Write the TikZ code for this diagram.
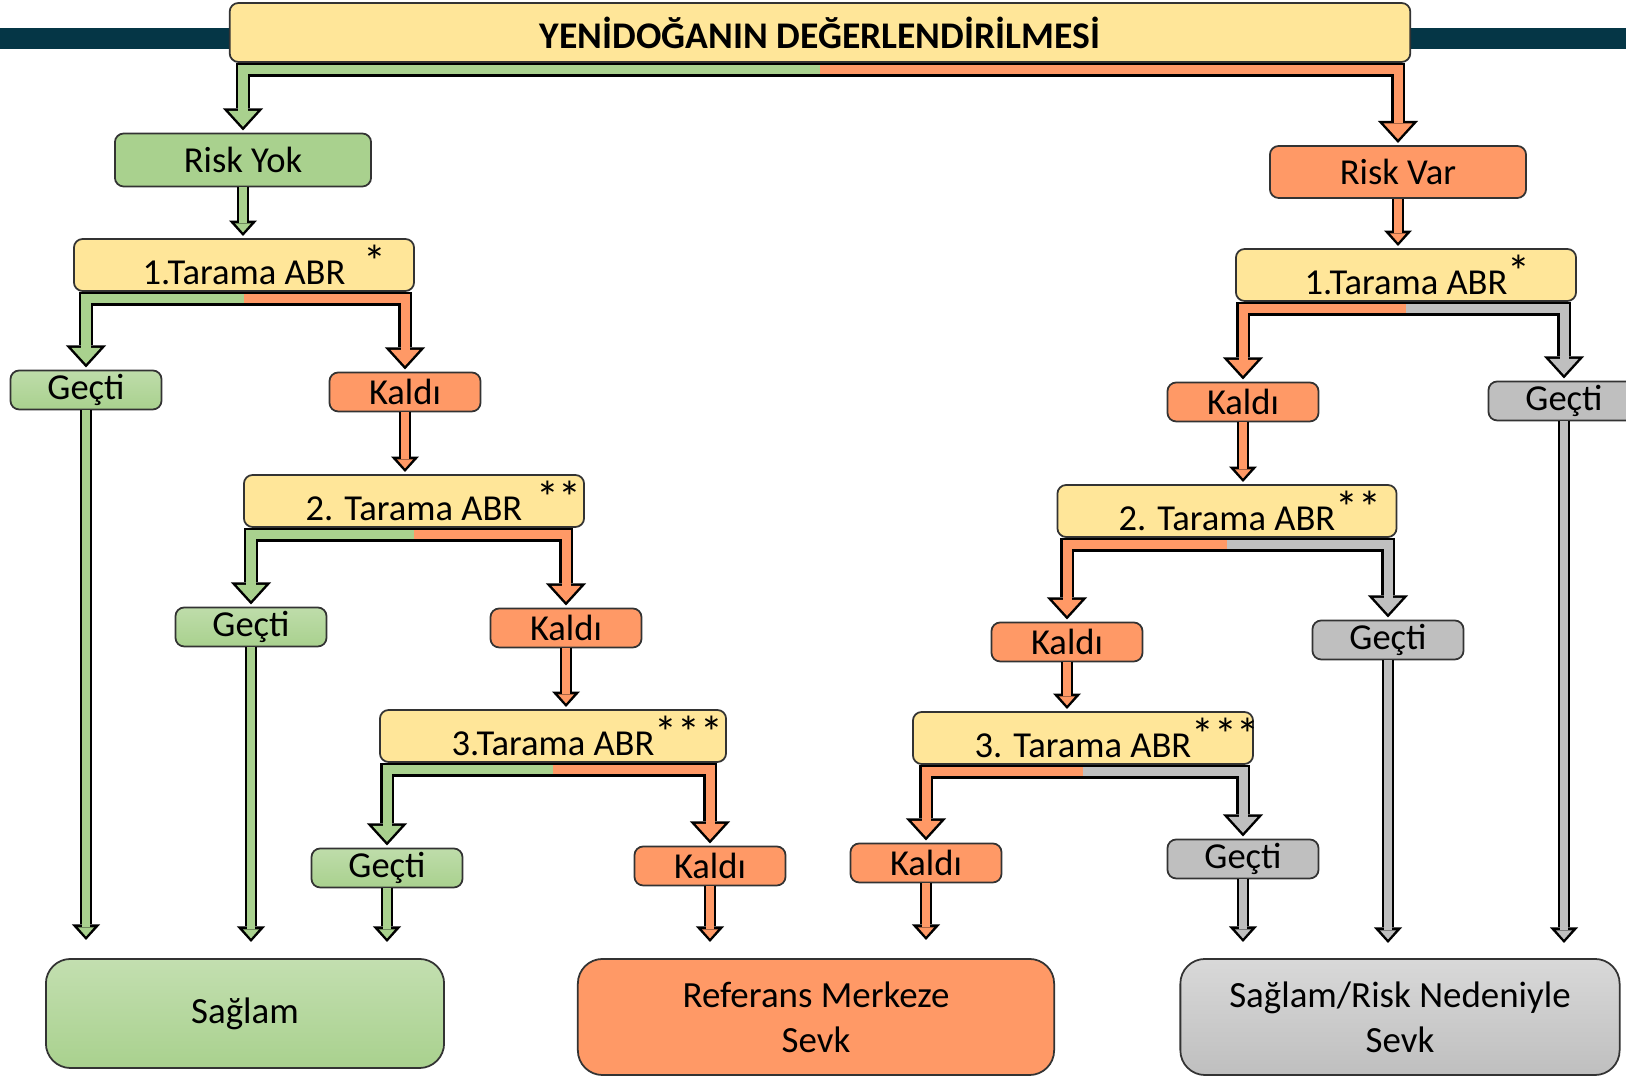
\documentclass[tikz,border=0pt]{standalone}
\usepackage{fontspec}
\setmainfont{Carlito}
\usetikzlibrary{arrows.meta,calc}

\definecolor{sari}{HTML}{FFE699}
\definecolor{yesil}{HTML}{A9D18E}
\definecolor{turuncu}{HTML}{FF9966}
\definecolor{gri}{HTML}{BFBFBF}
\definecolor{lacivert}{HTML}{053646}

\newcommand\yildiz[1]{\rlap{\fontsize{13}{13}\selectfont\raisebox{0.15em}{#1}}}

\tikzset{
  kutu/.style={draw=black!80, line width=0.5pt, rounded corners=2.5pt, inner sep=0pt,
    minimum width=1.51cm, minimum height=0.39cm, font=\fontsize{10.4}{12}\selectfont},
  tarama/.style={kutu, fill=sari, minimum width=3.4cm, minimum height=0.52cm},
  gecti/.style={kutu, top color=yesil!75!white, bottom color=yesil},
  kaldi/.style={kutu, fill=turuncu},
  gecgri/.style={kutu, fill=gri},
  sonuc/.style={kutu, rounded corners=7pt, align=center, font=\fontsize{10.5}{12.8}\selectfont},
  % block arrows: black outline first, colour on top
  dis/.style={line width=3.98pt, black, shorten >=0.6pt,
    -{Triangle[width=11.4pt,length=6.26pt,line width=0pt]}},
  ic/.style={line width=2.56pt, shorten >=1.65pt,
    -{Triangle[width=8.2pt,length=4.5pt,line width=0pt]}},
  dis2/.style={line width=3.41pt, black, shorten >=0.6pt,
    -{Triangle[width=7.97pt,length=4.4pt,line width=0pt]}},
  ic2/.style={line width=2pt, shorten >=1.6pt,
    -{Triangle[width=4.55pt,length=2.6pt,line width=0pt]}},
}
\newcommand\okb[2]{\draw[dis] #2; \draw[ic,#1] #2;}
\newcommand\oks[2]{\draw[dis2] #2; \draw[ic2,#1] #2;}

\begin{document}
\begin{tikzpicture}[x=0.01cm, y=-0.01cm]
\useasboundingbox (0,0) rectangle (1626,1077);
\fill[lacivert] (0,28) rectangle (1626,49);

\node[kutu, fill=sari, minimum width=11.8cm, minimum height=0.59cm,
  font=\bfseries\fontsize{10.7}{12}\selectfont] (baslik) at (820,32.5) {YENİDOĞANIN DEĞERLENDİRİLMESİ};

% risk yok
\node[kutu, fill=yesil, minimum width=2.56cm, minimum height=0.53cm] (ry) at (243,160) {Risk Yok};
\node[tarama] (t1) at (244,265) {1.Tarama ABR\yildiz{\hspace{0.4em}*}};
\node[gecti] (g1) at (86,390) {Geçti};
\node[kaldi] (k1) at (405,392) {Kaldı};
\node[tarama] (t2) at (414,501) {2. Tarama ABR\yildiz{\hspace{0.3em}**}};
\node[gecti] (g2) at (251,627) {Geçti};
\node[kaldi] (k2) at (566,628) {Kaldı};
\node[tarama, minimum width=3.46cm] (t3) at (553,736) {3.Tarama ABR\yildiz{***}};
\node[gecti] (g3) at (387,868) {Geçti};
\node[kaldi] (k3) at (710,866) {Kaldı};

% risk var
\node[kutu, fill=turuncu, minimum width=2.56cm, minimum height=0.52cm] (rv) at (1398,172) {Risk Var};
\node[tarama] (rt1) at (1406,275) {1.Tarama ABR\yildiz{*}};
\node[kaldi] (rk1) at (1243,402) {Kaldı};
\node[gecgri] (rg1) at (1564,401) {Geçti};
\node[tarama, minimum width=3.39cm] (rt2) at (1227,511) {2. Tarama ABR\yildiz{**}};
\node[kaldi] (rk2) at (1067,642) {Kaldı};
\node[gecgri] (rg2) at (1388,640) {Geçti};
\node[tarama] (rt3) at (1083,738) {3. Tarama ABR\yildiz{***}};
\node[kaldi] (rk3) at (926,863) {Kaldı};
\node[gecgri] (rg3) at (1243,859) {Geçti};

% sonuclar
\node[sonuc, top color=yesil!70!white, bottom color=yesil, minimum width=3.98cm, minimum height=1.09cm]
  (saglam) at (245,1013.5) {Sağlam};
\node[sonuc, fill=turuncu, minimum width=4.76cm, minimum height=1.16cm]
  (referans) at (816,1017) {Referans Merkeze\\Sevk};
\node[sonuc, top color=gri!60!white, bottom color=gri, minimum width=4.39cm, minimum height=1.16cm]
  (sevk) at (1400,1017) {Sağlam/Risk Nedeniyle\\Sevk};

% dallar
\okb{yesil}{($(baslik.south)+(0,7)$) -| (ry.north)}
\okb{turuncu}{($(baslik.south)+(0,7)$) -| (rv.north)}
\oks{yesil}{(ry.south) -- (ry.south |- t1.north)}
\oks{turuncu}{(rv.south) -- (rv.south |- rt1.north)}

\okb{yesil}{($(t1.south)+(0,7)$) -| (g1.north)}
\okb{turuncu}{($(t1.south)+(0,7)$) -| (k1.north)}
\oks{turuncu}{(k1.south) -- (k1.south |- t2.north)}
\okb{yesil}{($(t2.south)+(0,7)$) -| (g2.north)}
\okb{turuncu}{($(t2.south)+(0,7)$) -| (k2.north)}
\oks{turuncu}{(k2.south) -- (k2.south |- t3.north)}
\okb{yesil}{($(t3.south)+(0,7)$) -| (g3.north)}
\okb{turuncu}{($(t3.south)+(0,7)$) -| (k3.north)}

\okb{turuncu}{($(rt1.south)+(0,7)$) -| (rk1.north)}
\okb{gri}{($(rt1.south)+(0,7)$) -| (rg1.north)}
\oks{turuncu}{(rk1.south) -- (rk1.south |- rt2.north)}
\okb{turuncu}{($(rt2.south)+(0,7)$) -| (rk2.north)}
\okb{gri}{($(rt2.south)+(0,7)$) -| (rg2.north)}
\oks{turuncu}{(rk2.south) -- (rk2.south |- rt3.north)}
\okb{turuncu}{($(rt3.south)+(0,7)$) -| (rk3.north)}
\okb{gri}{($(rt3.south)+(0,7)$) -| (rg3.north)}

% sonuca inen oklar
\oks{yesil}{(g1.south) -- ($(g1.south |- saglam.north)+(0,-16)$)}
\oks{yesil}{(g2.south) -- ($(g2.south |- saglam.north)+(0,-14)$)}
\oks{yesil}{(g3.south) -- ($(g3.south |- saglam.north)+(0,-14)$)}
\oks{turuncu}{(k3.south) -- ($(k3.south |- referans.north)+(0,-14)$)}
\oks{turuncu}{(rk3.south) -- ($(rk3.south |- referans.north)+(0,-16)$)}
\oks{gri}{(rg3.south) -- ($(rg3.south |- sevk.north)+(0,-14)$)}
\oks{gri}{(rg2.south) -- ($(rg2.south |- sevk.north)+(0,-13)$)}
\oks{gri}{(rg1.south) -- ($(rg1.south |- sevk.north)+(0,-13)$)}
\end{tikzpicture}
\end{document}
